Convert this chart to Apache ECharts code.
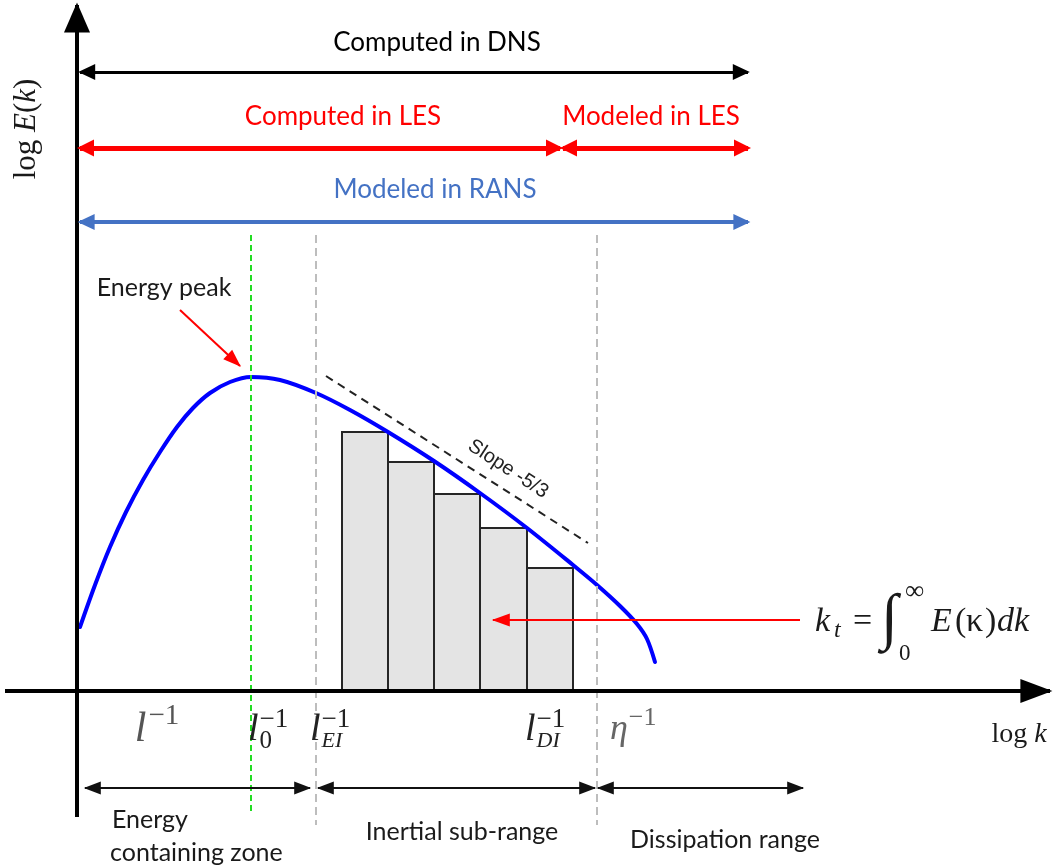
<!DOCTYPE html>
<html>
<head>
<meta charset="utf-8">
<script src="https://cdn.jsdelivr.net/npm/echarts@6/dist/echarts.min.js"></script>
<style>
  html, body { margin: 0; padding: 0; background: #ffffff; }
  #chart { width: 1053px; height: 867px; }
</style>
</head>
<body>
<div id="chart"></div>
<script>
// Schematic turbulent energy spectrum: x = log k, y = log E(k), arbitrary units.

// Spectrum curve E(k)
const spectrumK = [3, 18, 33, 49, 66, 83, 100, 116, 133, 153, 174, 203, 239, 273, 311, 357, 403, 450, 496, 520, 543, 560, 570, 578];
const spectrumE = [64, 106, 144, 179, 211, 239, 264, 283, 298, 309, 314, 311, 298, 281, 259, 230, 198, 163, 126, 106, 85, 67, 52, 29];

// Discrete bins under the inertial range
const binEdges  = [265, 311, 357, 403, 450, 496];
const binEnergy = [259, 229, 197, 163, 123];

// Characteristic wavenumbers
const peakK = 174;          // l0^-1
const inertialStartK = 239; // lEI^-1
const dissipationK = 520;   // lDI^-1

// -5/3 reference line (k, E)
const slopeK = [249, 511];
const slopeE = [315, 148];

// Resolved / modelled ranges along k
const dnsRange      = [3, 671];
const lesComputed   = [3, 483];
const lesModeled    = [486, 671];
const ransModeled   = [3, 671];
const zoneRanges    = [[8, 233], [241, 518], [521, 726]];

// Axis extents
const kAxis = [-77, 976];
const eAxis = [-176, 691];

const SANS = 'Lato, "Open Sans", sans-serif';
const MATH = '"Liberation Serif", "DejaVu Serif", serif';
const RED = '#ff0000';
const RANS_BLUE = '#4472c4';

// Vertical placement of the range arrows and text rows (in E units)
const row = { dns: 619, les: 543, rans: 469, zones: -97, ticks: -39 };

const measureCtx = document.createElement('canvas').getContext('2d');

// Lays out runs of text left to right; runs with `stack` share x with the next run,
// runs with `ax` are placed at a fixed offset from the label origin.
function layoutPieces(pieces) {
  let x = 0, stackW = 0, right = 0;
  const out = [];
  pieces.forEach(pc => {
    const font = (pc.italic ? 'italic ' : '') + pc.size + 'px ' + (pc.family || MATH);
    measureCtx.font = font;
    const w = measureCtx.measureText(pc.t).width;
    if (pc.ax != null) x = pc.ax;
    const px = x + (pc.dx || 0);
    out.push({ x: px, y: pc.dy || 0, font: font, text: pc.t, fill: pc.color });
    right = Math.max(right, px + w);
    if (pc.stack) { stackW = Math.max(stackW, w); }
    else { x += Math.max(w, stackW) + (pc.gap || 0); stackW = 0; }
  });
  return { out: out, width: right };
}

function plain(t, size, color) { return [{ t: t, size: size, family: SANS, color: color }]; }

function inverseLength(sub, color, subItalic) {
  return [
    { t: 'l', italic: true, size: 38, color: color },
    { t: '\u22121', size: 27, dy: -10, color: color, stack: true, dx: 1 },
    { t: sub, italic: subItalic, size: subItalic ? 22 : 25, dy: 11, color: color, dx: 1 }
  ];
}

const INK = '#1a1a1a';

// Text labels: anchor in (k, E), alignment, rotation and composed runs
const labels = [
  { at: [360, 648], align: 'center', runs: plain('Computed in DNS', 26, '#000') },
  { at: [266, 574], align: 'center', runs: plain('Computed in LES', 26, RED) },
  { at: [574, 574], align: 'center', runs: plain('Modeled in LES', 26, RED) },
  { at: [358, 501], align: 'center', runs: plain('Modeled in RANS', 26, RANS_BLUE) },
  { at: [87, 403], align: 'center', runs: plain('Energy peak', 25, INK) },
  { at: [431, 222], align: 'center', rot: -33, runs: [{ t: 'Slope -5/3', size: 20, family: '"Liberation Sans", Arial, sans-serif', color: '#222' }] },
  { at: [35, -129], align: 'left', runs: plain('Energy', 25, INK) },
  { at: [33, -162], align: 'left', runs: plain('containing zone', 25, INK) },
  { at: [385, -141], align: 'center', runs: plain('Inertial sub-range', 25, INK) },
  { at: [648, -149], align: 'center', runs: plain('Dissipation range', 25, INK) },
  // characteristic scales on the k axis
  { at: [80, row.ticks], align: 'center', runs: [
    { t: 'l', italic: true, size: 42, color: '#555' },
    { t: '\u22121', size: 29, dy: -14, color: '#555', dx: 2 }] },
  { at: [171, row.ticks], align: 'left', runs: inverseLength('0', '#222', false) },
  { at: [233, row.ticks], align: 'left', runs: inverseLength('EI', '#222', true) },
  { at: [448, row.ticks], align: 'left', runs: inverseLength('DI', '#222', true) },
  { at: [533, row.ticks], align: 'left', runs: [
    { t: '\u03b7', italic: true, size: 36, color: '#666' },
    { t: '\u22121', size: 26, dy: -12, color: '#666', dx: 1 }] },
  { at: [942, -44], align: 'center', runs: [
    { t: 'log ', size: 28, color: INK },
    { t: 'k', italic: true, size: 28, color: INK }] },
  { at: [-50, 562], align: 'center', rot: 90, runs: [
    { t: 'log ', size: 31, color: INK },
    { t: 'E', italic: true, size: 31, color: INK },
    { t: '(', size: 31, color: INK },
    { t: 'k', italic: true, size: 31, color: INK },
    { t: ')', size: 31, color: INK }] },
  // k_t = ∫_0^∞ E(κ) dk
  { at: [738, 69], align: 'left', runs: [
    { t: 'k', italic: true, size: 34, color: INK, ax: 0 },
    { t: 't', italic: true, size: 24, dy: 9, color: INK, ax: 19 },
    { t: '=', size: 34, color: INK, ax: 38 },
    { t: '\u222b', size: 62, dy: -1, color: INK, italic: true, ax: 66 },
    { t: '\u221e', size: 27, dy: -30, color: INK, ax: 90 },
    { t: '0', size: 23, dy: 32, color: INK, ax: 84 },
    { t: 'E', italic: true, size: 34, color: INK, ax: 116 },
    { t: '(', size: 34, color: INK, ax: 140 },
    { t: '\u03ba', size: 34, color: INK, ax: 151 },
    { t: ')', size: 34, color: INK, ax: 170 },
    { t: 'd', italic: true, size: 34, color: INK, ax: 182 },
    { t: 'k', italic: true, size: 34, color: INK, ax: 199 }] }
];

function arrow(from, to, color, width, head, both) {
  const sym = { symbol: 'triangle', symbolSize: head, symbolOffset: [0, head[1] / 2 - width * 0.6] };
  return [
    Object.assign({ coord: from, lineStyle: { color: color, width: width, type: 'solid' } }, both ? sym : { symbol: 'none' }),
    Object.assign({ coord: to }, sym)
  ];
}

function vline(k, top, bottom, color, dash) {
  return [
    { coord: [k, top], symbol: 'none', lineStyle: { color: color, width: 2, type: dash } },
    { coord: [k, bottom], symbol: 'none' }
  ];
}

const option = {
  animation: false,
  backgroundColor: '#ffffff',
  grid: { left: 0, right: 0, top: 0, bottom: 0 },
  xAxis: { type: 'value', min: kAxis[0], max: kAxis[1], show: false },
  yAxis: { type: 'value', min: eAxis[0], max: eAxis[1], show: false },
  series: [
    {
      // range boundaries and the -5/3 guide
      type: 'line', data: [], silent: true, z: 1,
      markLine: {
        silent: true, animation: false, label: { show: false }, emphasis: { disabled: true },
        data: [
          vline(peakK, 456, -124, '#22dd22', [6, 4]),
          vline(inertialStartK, 456, -134, '#bdbdbd', [8, 5]),
          vline(dissipationK, 456, -134, '#bdbdbd', [8, 5]),
          [
            { coord: [slopeK[0], slopeE[0]], symbol: 'none', lineStyle: { color: '#222', width: 2, type: [8, 6] } },
            { coord: [slopeK[1], slopeE[1]], symbol: 'none' }
          ]
        ]
      }
    },
    {
      // bins
      type: 'custom', z: 2, silent: true, clip: false,
      data: binEnergy.map((e, i) => [binEdges[i], binEdges[i + 1], e]),
      renderItem: function (params, api) {
        const p0 = api.coord([api.value(0), api.value(2)]);
        const p1 = api.coord([api.value(1), 0]);
        return {
          type: 'rect',
          shape: { x: p0[0], y: p0[1], width: p1[0] - p0[0], height: p1[1] - p0[1] },
          style: { fill: '#e4e4e4', stroke: '#262626', lineWidth: 2 }
        };
      }
    },
    {
      // spectrum
      type: 'line', z: 3, silent: true, showSymbol: false, smooth: 0.3,
      data: spectrumK.map((k, i) => [k, spectrumE[i]]),
      lineStyle: { color: '#0000ff', width: 4, cap: 'round' }
    },
    {
      // axes and range arrows
      type: 'line', data: [], silent: true, z: 4,
      markLine: {
        silent: true, animation: false, label: { show: false }, emphasis: { disabled: true },
        data: [
          arrow([0, -126], [0, 686], '#000', 4, [26, 30], false),
          arrow([kAxis[0] + 5, 0], [973, 0], '#000', 4, [24, 32], false),
          arrow([dnsRange[0], row.dns], [dnsRange[1], row.dns], '#000', 3, [16, 17], true),
          arrow([lesComputed[0], row.les], [lesComputed[1], row.les], RED, 5, [17, 17], true),
          arrow([lesModeled[0], row.les], [lesModeled[1], row.les], RED, 5, [17, 17], true),
          arrow([ransModeled[0], row.rans], [ransModeled[1], row.rans], RANS_BLUE, 4, [16, 17], true),
          arrow([zoneRanges[0][0], row.zones], [zoneRanges[0][1], row.zones], '#111', 2, [13, 17], true),
          arrow([zoneRanges[1][0], row.zones], [zoneRanges[1][1], row.zones], '#111', 2, [13, 17], true),
          arrow([zoneRanges[2][0], row.zones], [zoneRanges[2][1], row.zones], '#111', 2, [13, 17], true),
          arrow([103, 381], [163, 325], RED, 2, [13, 18], false),
          arrow([723, 71], [416, 71], RED, 2, [13, 18], false)
        ]
      }
    },
    {
      // text
      type: 'custom', z: 5, silent: true, clip: false,
      data: labels.map(l => l.at),
      renderItem: function (params, api) {
        const spec = labels[params.dataIndex];
        const p = api.coord([api.value(0), api.value(1)]);
        const lay = layoutPieces(spec.runs);
        const x0 = spec.align === 'center' ? -lay.width / 2 : 0;
        return {
          type: 'group', x: p[0], y: p[1],
          rotation: (spec.rot || 0) * Math.PI / 180,
          children: lay.out.map(o => ({
            type: 'text', x: x0 + o.x, y: o.y,
            style: { text: o.text, font: o.font, fill: o.fill, align: 'left', verticalAlign: 'middle' }
          }))
        };
      }
    }
  ]
};

const chart = echarts.init(document.getElementById('chart'), null, { renderer: 'canvas' });
chart.setOption(option);
</script>
</body>
</html>
